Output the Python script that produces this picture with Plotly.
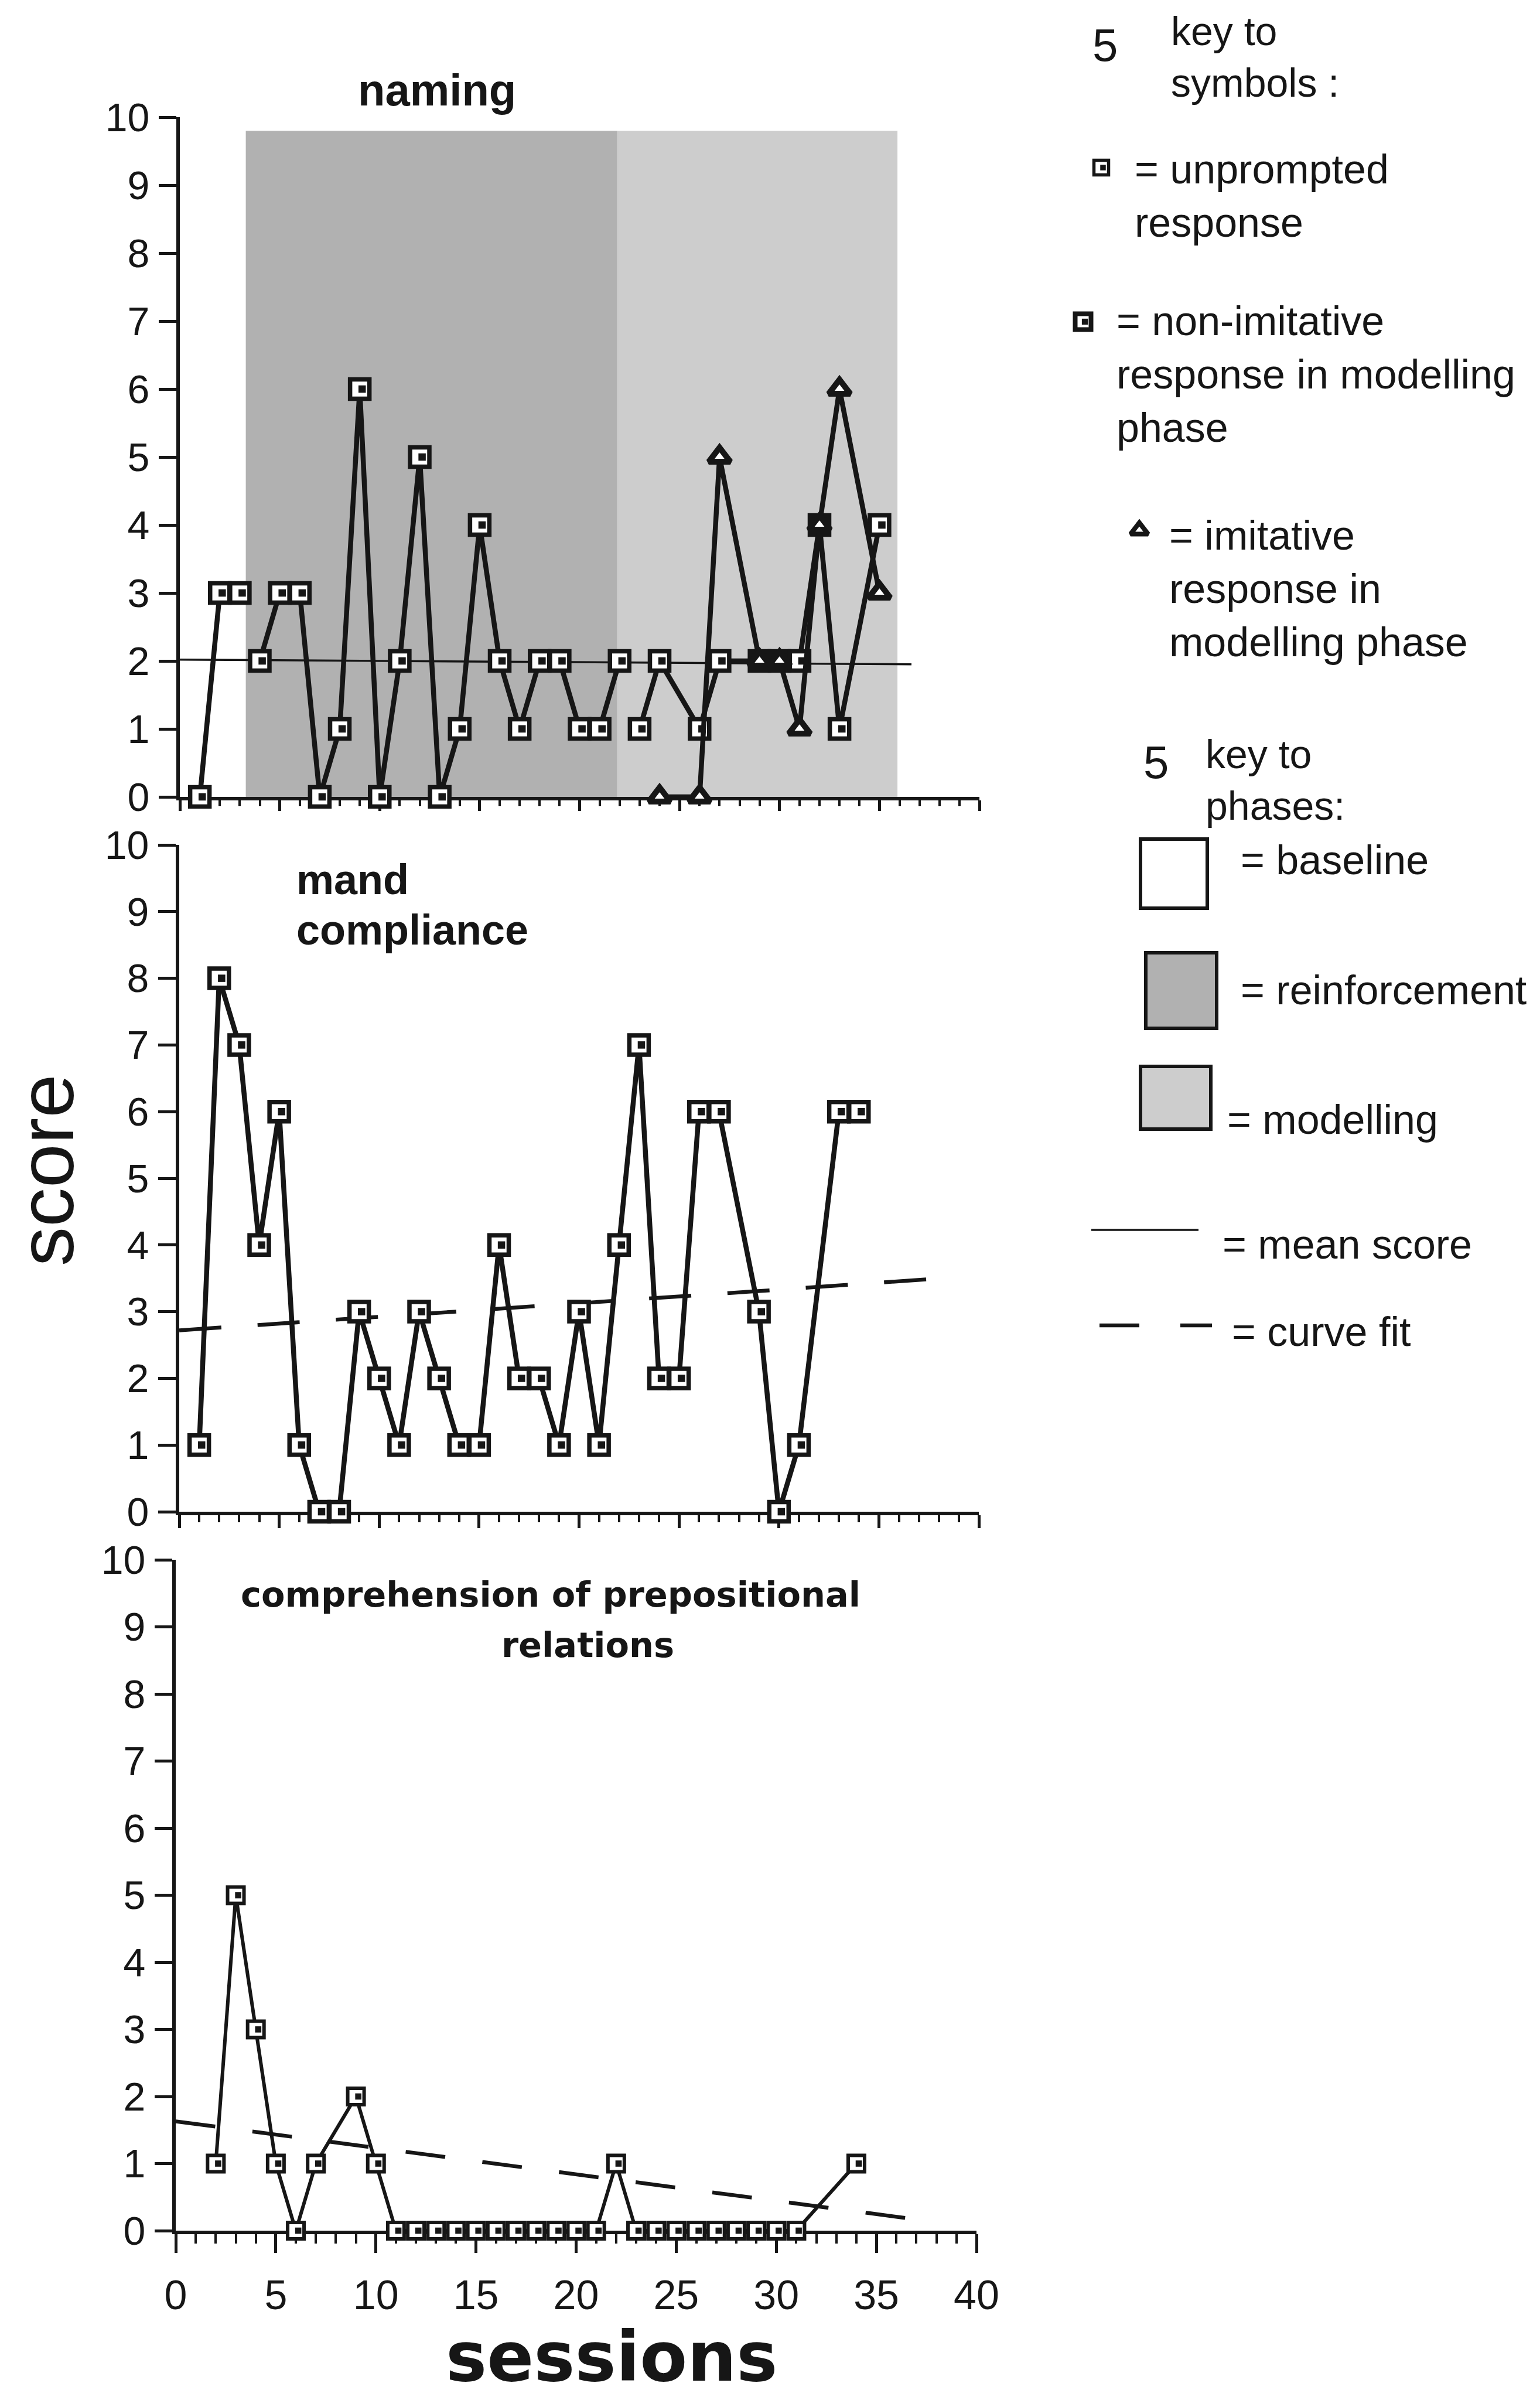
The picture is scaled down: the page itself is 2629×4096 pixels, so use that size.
import plotly.graph_objects as go

W, H = 2629, 4096
INK = "#161616"
SANS = "Liberation Sans, Arial, Helvetica, sans-serif"
WIDE = "DejaVu Sans, Verdana, sans-serif"

# ---------------- data ----------------
session_ticks = [0, 5, 10, 15, 20, 25, 30, 35, 40]
score_ticks = [0, 1, 2, 3, 4, 5, 6, 7, 8, 9, 10]

# naming
phase_edges = [0, 3.3, 21.9, 35.9]          # baseline | reinforcement | modelling
shade_top = 9.8
naming_base_x = [1, 2, 3]
naming_base_y = [0, 3, 3]
naming_reinf_x = [4, 5, 6, 7, 8, 9, 10, 11, 12, 13, 14, 15, 16, 17, 18, 19, 20, 21, 22]
naming_reinf_y = [2, 3, 3, 0, 1, 6, 0, 2, 5, 0, 1, 4, 2, 1, 2, 2, 1, 1, 2]
naming_model_sq_x = [23, 24, 26, 27, 29, 30, 31, 32, 33, 35]
naming_model_sq_y = [1, 2, 1, 2, 2, 2, 2, 4, 1, 4]
naming_model_tri_x = [24, 26, 27, 29, 30, 31, 32, 33, 35]
naming_model_tri_y = [0, 0, 5, 2, 2, 1, 4, 6, 3]
naming_mean_x = [0, 36.6]
naming_mean_y = [2.02, 1.95]

# mand compliance
mand_x = [1, 2, 3, 4, 5, 6, 7, 8, 9, 10, 11, 12, 13, 14, 15, 16, 17, 18, 19, 20,
          21, 22, 23, 24, 25, 26, 27, 29, 30, 31, 33, 34]
mand_y = [1, 8, 7, 4, 6, 1, 0, 0, 3, 2, 1, 3, 2, 1, 1, 4, 2, 2, 1, 3,
          1, 4, 7, 2, 2, 6, 6, 3, 0, 1, 6, 6]
mand_fit_x = [0, 10, 20, 30, 38.1]
mand_fit_y = [2.72, 2.92, 3.13, 3.33, 3.5]

# comprehension of prepositional relations
comp_x = [2, 3, 4, 5, 6, 7, 9, 10, 11, 12, 13, 14, 15, 16, 17, 18, 19, 20, 21,
          22, 23, 24, 25, 26, 27, 28, 29, 30, 31, 34]
comp_y = [1, 5, 3, 1, 0, 1, 2, 1, 0, 0, 0, 0, 0, 0, 0, 0, 0, 0, 0,
          1, 0, 0, 0, 0, 0, 0, 0, 0, 0, 1]
comp_fit_x = [0, 17, 37.7]
comp_fit_y = [1.63, 0.96, 0.14]

REINF_GREY = "#b1b1b1"
MODEL_GREY = "#cdcdcd"

# ---------------- figure ----------------
fig = go.Figure()

NOTCH_SHIFT = 0.12   # sessions; puts the inner mark against the right edge of the box


def data_line(x, y, xa, ya, size, symbol="square", fill="white", lw=8.5, mlw=7.5,
              notch=True):
    fig.add_trace(go.Scatter(
        x=x, y=y, xaxis=xa, yaxis=ya, mode="lines+markers",
        line=dict(color=INK, width=lw),
        marker=dict(symbol=symbol, size=size, color=fill,
                    line=dict(color=INK, width=mlw)),
        cliponaxis=False, showlegend=False, hoverinfo="skip"))
    if notch:
        # small dark mark inside each square symbol
        fig.add_trace(go.Scatter(
            x=[v + NOTCH_SHIFT for v in x], y=y, xaxis=xa, yaxis=ya, mode="markers",
            marker=dict(symbol="square", size=size * 0.38, color=INK,
                        line=dict(width=0)),
            cliponaxis=False, showlegend=False, hoverinfo="skip"))


def plain_line(x, y, xa, ya, width, dash="solid"):
    fig.add_trace(go.Scatter(
        x=x, y=y, xaxis=xa, yaxis=ya, mode="lines",
        line=dict(color=INK, width=width, dash=dash),
        cliponaxis=False, showlegend=False, hoverinfo="skip"))


# naming panel
plain_line(naming_mean_x, naming_mean_y, "x", "y", 3.5)
data_line(naming_base_x, naming_base_y, "x", "y", 33)
data_line(naming_reinf_x, naming_reinf_y, "x", "y", 33)
tri_pairs = set(zip(naming_model_tri_x, naming_model_tri_y))
sq_fill = [INK if (sx, sy) in tri_pairs else "white"
           for sx, sy in zip(naming_model_sq_x, naming_model_sq_y)]
data_line(naming_model_sq_x, naming_model_sq_y, "x", "y", 33, fill=sq_fill)
data_line(naming_model_tri_x, naming_model_tri_y, "x", "y", 32,
          symbol="triangle-up", mlw=10, notch=False)

# mand compliance panel
plain_line(mand_fit_x, mand_fit_y, "x2", "y2", 6.5, dash="72px,62px")
data_line(mand_x, mand_y, "x2", "y2", 33)

# comprehension panel
plain_line(comp_fit_x, comp_fit_y, "x3", "y3", 6.5, dash="68px,64px")
data_line(comp_x, comp_y, "x3", "y3", 28, lw=6, mlw=6)

# ---------------- axes ----------------
def px_x(p):
    return p / W


def px_y(p):
    return 1 - p / H


def x_axis(left, right, anchor, labels, major_len, minor_len):
    return dict(
        domain=[px_x(left), px_x(right)], range=[0, 40], anchor=anchor,
        showgrid=False, zeroline=False, showline=True, linecolor=INK, linewidth=6,
        tickmode="array", tickvals=session_ticks,
        ticktext=[str(v) for v in session_ticks],
        ticks="outside", tickcolor=INK, tickwidth=4.5, ticklen=major_len,
        showticklabels=labels, ticklabelstandoff=12,
        tickfont=dict(family=SANS, size=70, color=INK),
        minor=dict(ticks="outside", tickmode="linear", tick0=0, dtick=1,
                   ticklen=minor_len, tickwidth=4, tickcolor=INK, showgrid=False),
        layer="below traces", fixedrange=True, automargin=False)


def y_axis(top, bottom, anchor):
    return dict(
        domain=[px_y(bottom), px_y(top)], range=[0, 10], anchor=anchor,
        showgrid=False, zeroline=False, showline=True, linecolor=INK, linewidth=6,
        tickmode="array", tickvals=score_ticks,
        ticktext=[str(v) for v in score_ticks],
        ticks="outside", tickcolor=INK, tickwidth=4.5, ticklen=30,
        ticklabelstandoff=2,
        tickfont=dict(family=SANS, size=68, color=INK),
        layer="below traces", fixedrange=True, automargin=False)


layout = dict(
    template="none",
    width=W, height=H, margin=dict(l=0, r=0, t=0, b=0, pad=0, autoexpand=False),
    paper_bgcolor="white", plot_bgcolor="rgba(0,0,0,0)", showlegend=False,
    xaxis=x_axis(307, 1672, "y", False, 18, 10),
    yaxis=y_axis(200, 1360, "x"),
    xaxis2=x_axis(306, 1671, "y2", False, 22, 12),
    yaxis2=y_axis(1442, 2580, "x2"),
    xaxis3=x_axis(300, 1667, "y3", True, 32, 16),
    yaxis3=y_axis(2662, 3807, "x3"),
    # full-page pixel frame for the key and free text
    xaxis4=dict(domain=[0, 1], range=[0, W], anchor="y4", visible=False,
                fixedrange=True, automargin=False),
    yaxis4=dict(domain=[0, 1], range=[H, 0], anchor="x4", visible=False,
                fixedrange=True, automargin=False),
)
fig.update_layout(**layout)

shapes = []
# phase shading in the naming panel
phase_fills = [None, REINF_GREY, MODEL_GREY]
for i, fill in enumerate(phase_fills):
    if fill is None:
        continue
    shapes.append(dict(type="rect", xref="x", yref="y",
                       x0=phase_edges[i], x1=phase_edges[i + 1], y0=0, y1=shade_top,
                       fillcolor=fill, line=dict(width=0), layer="below"))

# key to phases: boxes
key_boxes = [((1947, 1432, 2061, 1550), "white"),
             ((1956, 1626, 2077, 1755), REINF_GREY),
             ((1947, 1820, 2067, 1927), MODEL_GREY)]
for (x0, y0, x1, y1), fill in key_boxes:
    shapes.append(dict(type="rect", xref="x4", yref="y4", x0=x0, y0=y0, x1=x1, y1=y1,
                       fillcolor=fill, line=dict(color=INK, width=6), layer="above"))
# mean score / curve fit samples
shapes.append(dict(type="line", xref="x4", yref="y4", x0=1863, x1=2046, y0=2099, y1=2099,
                   line=dict(color=INK, width=3.5)))
for x0, x1 in [(1877, 1945), (2015, 2069)]:
    shapes.append(dict(type="line", xref="x4", yref="y4", x0=x0, x1=x1, y0=2262, y1=2262,
                       line=dict(color=INK, width=6.5)))
fig.update_layout(shapes=shapes)

# key to symbols: markers
key_marks = [(1880, 286, "square", 25, 5.5),
             (1849, 549, "square", 27, 8),
             (1945, 905, "triangle-up", 26, 8)]
for kx, ky, sym, sz, mlw in key_marks:
    fig.add_trace(go.Scatter(x=[kx], y=[ky], xaxis="x4", yaxis="y4", mode="markers",
                             marker=dict(symbol=sym, size=sz, color="white",
                                         line=dict(color=INK, width=mlw)),
                             cliponaxis=False, showlegend=False, hoverinfo="skip"))
    if sym == "square":
        fig.add_trace(go.Scatter(x=[kx + 3], y=[ky], xaxis="x4", yaxis="y4", mode="markers",
                                 marker=dict(symbol="square", size=sz * 0.38, color=INK,
                                             line=dict(width=0)),
                                 cliponaxis=False, showlegend=False, hoverinfo="skip"))

annotations = []


def text(x, baseline, s, size, family=SANS, weight="normal", anchor="left", lines=1,
         angle=0, center=None):
    if center is None:
        yc = baseline - 0.3465 * size + 0.65 * (lines - 1) * size
    else:
        yc = center
    annotations.append(dict(
        x=x, y=yc, xref="x4", yref="y4", text=s, showarrow=False,
        xanchor=anchor, yanchor="middle", align=anchor if anchor != "center" else "center",
        textangle=angle, borderpad=0,
        font=dict(family=family, size=size, color=INK, weight=weight)))


# panel titles
text(746, 180, "naming", 76, weight="bold", anchor="center")
text(505, 1526, "mand", 72, weight="bold")
text(505, 1612, "compliance", 72, weight="bold")
text(940, 2742, "comprehension of prepositional", 59, family=WIDE, weight="bold",
     anchor="center")
text(1003, 2828, "relations", 59, family=WIDE, weight="bold", anchor="center")

# axis titles
text(78, None, "score", 134, anchor="center", angle=-90, center=1997)
text(1044, 4063, "sessions", 118, family=WIDE, weight="bold", anchor="center")

# key to symbols
text(1886, None, "5", 78, anchor="center", center=77)
text(1998, 76, "key to<br>symbols :", 68, lines=2)
text(1936, 313, "= unprompted<br>response", 70, lines=2)
text(1905, 572, "= non-imitative<br>response in modelling<br>phase", 70, lines=3)
text(1995, 938, "= imitative<br>response in<br>modelling phase", 70, lines=3)

# key to phases
text(1973, None, "5", 78, anchor="center", center=1301)
text(2057, 1310, "key to<br>phases:", 68, lines=2)
text(2117, 1492, "= baseline", 70)
text(2117, 1714, "= reinforcement", 70)
text(2094, 1935, "= modelling", 70)
text(2086, 2148, "= mean score", 70)
text(2102, 2297, "= curve fit", 70)

fig.update_layout(annotations=annotations)

fig.write_html("out.html")
